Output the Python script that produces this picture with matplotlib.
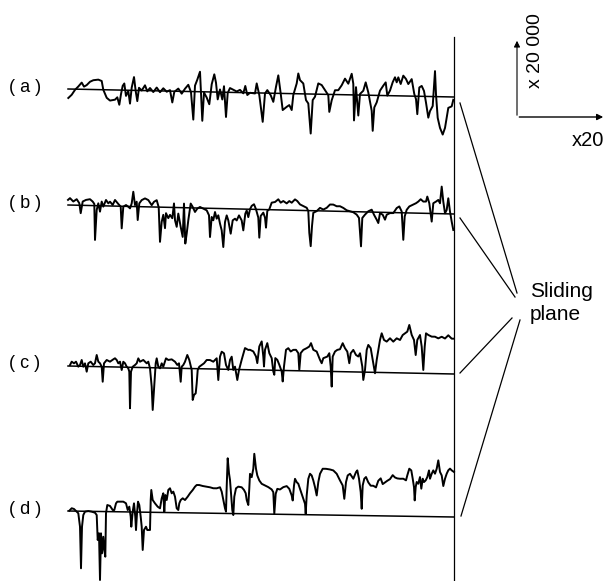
import numpy as np
import matplotlib
matplotlib.use("Agg")
import matplotlib.pyplot as plt

plt.rcParams['font.family'] = ['Liberation Sans', 'DejaVu Sans']

# surface profiles: (distance along trace, height above the mean line)
profile_a = [(0.3, -9), (3.7, -5.7), (7, -0.7), (10.3, 2.7), (13.7, 6.7), (16, 2.7), (18.7, 4.3), (22, 7.7),
             (25.3, 9.3), (30.3, 10), (33.7, 8.7), (35.3, 0), (38.7, -8), (42, -10.7), (47, -9.7), (49.3, -7.3),
             (51.3, -14.7), (53, -4), (54.7, 4.3), (56.3, 6.7), (58, -5.7), (60.3, -0.7), (62, -13.3), (63.7, 2.7),
             (66, 13.3), (67.7, -0.7), (69.3, -10.7), (71, 2.7), (73.7, 0), (77, 5.3), (79.3, -0.7), (82, 2.7),
             (85.3, -1.3), (88.7, 3.3), (92, -1.3), (95.3, 2.7), (98.7, -0.7), (102, 1), (104.3, -11.3),
             (106.3, -0.7), (110.3, 2.7), (113.7, -2.3), (117, 2.7), (120.3, 6.7), (123, -0.7), (125.3, -28),
             (127, 6), (129.3, 12), (132, 20), (134.3, -29), (136, -0.7), (138.7, -5.7), (141.3, -12.3),
             (143.7, 7.7), (146.3, 17.7), (148, 9.3), (149.7, -7.3), (152, 2.7), (154.3, -7.3), (156, 6),
             (158, -24.7), (159.7, -0.7), (162, 4.3), (165.3, 2.7), (168.7, 1), (172, 2.7), (175.3, -0.7),
             (177.3, 6.7), (179.3, -2.3), (182, 0), (187, -0.6), (188.7, 9.5), (191.3, -2.1), (194.7, -28.8),
             (197, -0.4), (199.3, 3), (202.7, -2), (205.3, -8.6), (208, 6.5), (210.3, 18), (212.7, -0.1),
             (214.7, -16.6), (218.7, -13.3), (221.3, -11.5), (223.7, -16.4), (225.3, -1.4), (228.7, 10.3),
             (230.3, 20.3), (232, 13.7), (235.3, 10.4), (238, -6.2), (240.3, -9.5), (242.7, -39.5), (244.7, -6),
             (247, -2.6), (250.3, 10.8), (253.7, 9.2), (257, 4.2), (260.3, -0.8), (261.3, -17.5), (263.7, -5.8),
             (267, 4.3), (270.3, 4.4), (273.7, 9.4), (277, 16.1), (280.3, 11.1), (283.7, 21.1), (285.3, 11.1),
             (286, -25.5), (288, 7.8), (290.3, -20.5), (292, 1.1), (295.3, 4.4), (297.7, 12.8), (300.3, 2.8),
             (303.7, -15.5), (304.7, -35.5), (306.3, -12.1), (308.7, -7), (312, 4.8), (315.3, 9.9), (317.7, 13.2),
             (319.3, 0), (322, 5.1), (324.7, 13.5), (327, 18.5), (328.7, 13.5), (330.3, 18.5), (332.7, 11.9),
             (335.3, 20.3), (338, 17), (340.3, 12), (343.7, 17), (346.3, 2.1), (348, -2.9), (349.3, -17.9),
             (351.3, 8.8), (353.7, 10.4), (356, 5.4), (358, -6.2), (360.3, -21.2), (362, -14.6), (364.7, -9.5),
             (367, 25.5), (368, 2.2), (369.7, -21.2), (372, -31.2), (374.7, -37.8), (377, -31.1), (378.7, -21),
             (380.3, -11), (383.7, -9.4), (385.3, -2.8)]

profile_b = [(0, 5.1), (2, 6.9), (5.3, 3.6), (8.7, 6), (11.3, 2.1), (12.7, -7.9), (14.7, 3.8), (18, 5.5), (22, 6.3),
             (24.7, 4), (26.3, 1.7), (27, -34.3), (28.7, -4.3), (30.3, 2.4), (32, -5.9), (33.7, 4.2), (35.3, -0.8),
             (38, 5.9), (40.3, 2.6), (42, 4.3), (44.7, 1.1), (47, 6.1), (50.3, 2.2), (52.7, -0.4), (53.7, -22.1),
             (55.3, -0.4), (58, 1.3), (60.3, -0.3), (62, -1.9), (63.7, 3.1), (65.3, 14.8), (67, 1.5), (68.7, 4.9),
             (69.7, -13.4), (71.3, 3.3), (73.7, 6.6), (77, 8.4), (80.3, 6.8), (83.7, 1.8), (86, 5.2), (88.7, 6.9),
             (90.7, -0.2), (92, -34.7), (93.7, -14.6), (95.3, -7.6), (97, -20.9), (98, -5.9), (100.3, -10.8),
             (102, -7.5), (104.3, -10.8), (106, 4), (107, -12.7), (108.7, -19.3), (110.3, -6), (112.7, -19.3),
             (114.7, -29.2), (116, 4.1), (117.3, -35.8), (118.7, -25.8), (120.3, -12.4), (122.7, 4.3), (124.7, 1),
             (127, -4), (129.3, -0.6), (132, 1.1), (135.3, -0.5), (138.7, -2.1), (141, -7), (142, -28.7),
             (143.7, -8.6), (145.3, -11.9), (147, -3.6), (148.7, -10.2), (150.3, -6.8), (152, -15.1),
             (153.7, -21.8), (155.3, -38.4), (157, -13.4), (158.7, -6.7), (160.3, -11.6), (162.7, -24.9),
             (164.7, -11.5), (167, -9.8), (168.7, -11.5), (171, -6.4), (173.7, -11.4), (175.3, -21.3),
             (177.3, -4.6), (178.7, -1.3), (180.3, -7.9), (182, 0), (183.7, 3.4), (186, 5.1), (188, 0.1),
             (190.3, -8.2), (191.3, -28.2), (192.7, -6.5), (195.3, -3.1), (197, -8), (198, -18), (199.3, -1.3),
             (201.3, 0.4), (203.7, 7.1), (207, 7.8), (210.3, 10.6), (212.7, 7.3), (215.3, 9), (218.7, 6.7),
             (221.3, 9.1), (223.7, 7.5), (227, 10.9), (229.3, 9.3), (232, 6), (235.3, 4.4), (238.7, 2.8),
             (240.3, -0.5), (241.3, -22.2), (242.7, -35.5), (244, -15.4), (245.3, -2.1), (248.7, -0.3), (252, 3),
             (255.3, 1.4), (258.7, 3.2), (262, 6.6), (265.3, 6.6), (268.7, 5), (272, 5.1), (275.3, 3.5),
             (278.7, 1.2), (282, 0.3), (285.3, -0.6), (288.7, -2.9), (291, -6.2), (293, -34.5), (294.3, -6.1),
             (297, -2.7), (300.3, 0.7), (303.7, 2.4), (306, -2.6), (308.7, -7.5), (310.3, -10.8), (312, -0.8),
             (314.7, -2.4), (317, -7.3), (318.7, -2.3), (322, -0.6), (325.3, -0.5), (328.7, 4.6), (331.3, 6.3),
             (333.7, 1.3), (335.3, -27), (336.7, -3.6), (338.7, 3.1), (341.3, 6.5), (344.7, 8.2), (348, 9.9),
             (350.3, 11.6), (352.7, 14), (355.3, 11.7), (358, 11.8), (359.3, 16.8), (361.3, 10.2), (363.7, -8.1),
             (365.3, 10.3), (368, 12), (370.3, 13.7), (372, 10.4), (373.7, 27.1), (375.3, 12.1), (377, 0.5),
             (378.7, 3.9), (380.3, 15.6), (382, 2.3), (383.7, -7.7), (385.3, -16)]

profile_c = [(2, 1), (3.7, 4.4), (6, 2.8), (8, 4.5), (10.3, -0.5), (12, 1.2), (13.7, 6.3), (15.3, -0.4), (17, 3),
             (18.7, -5.3), (20.3, 3.1), (22.7, 4.8), (25.3, 1.5), (27, 3.3), (28.7, 11.6), (30.3, 5), (32, 3.4),
             (33.7, 0), (34.7, -15), (36, 3.4), (38.7, 6.8), (42, 5.2), (45.3, 7.6), (47, 8.7), (48.7, 7),
             (50.3, 3.7), (52, 5.4), (53.7, -2.9), (55.3, 5.4), (57, 3.9), (58.7, 0.5), (60.3, -1.1), (61.3, -4.4),
             (62, -41), (63, -4.4), (64.7, 0.6), (67, 2.4), (68.7, 4.1), (70.3, 9.1), (72, 5.8), (75.3, 7.6),
             (78.7, 4.3), (80.3, 6), (82, -0.6), (83.7, -19), (84.7, -42.2), (86, -22.2), (87.7, 4.5), (88.7, 9.5),
             (90.3, 1.2), (92, -0.4), (93.7, 4.6), (95.3, 1.3), (98, 9.7), (100.3, 8.1), (103.7, 8.8), (107, 6.5),
             (109.3, 3.3), (111, 5), (112.7, -13.4), (113.7, 1.7), (115.3, 3.4), (117, 6.7), (119.3, 13.5),
             (121.3, 8.5), (123.7, -1.4), (124.7, -31.4), (126, -26.4), (127.7, -24.7), (128.7, -14.6),
             (129.7, -1.3), (131.3, 2), (133.7, 3.8), (136, 5.5), (138.7, 8.9), (142, 8.9), (145.3, 7.3),
             (148.7, 10.8), (150.3, -10.9), (152, 12.5), (153.7, 17.5), (156, 15.9), (158, 4.3), (160.3, -0.6),
             (162, 9.4), (163.7, 12.7), (165.3, -0.5), (167, 2.8), (169.3, -10.5), (171, -0.5), (173.7, 9.9),
             (177, 21.6), (180.3, 19.8), (182, 20), (185.3, 18.4), (188, 13.4), (189.3, 6.8), (191.3, 23.5),
             (193.7, 28.6), (195.3, 13.6), (196, 3.6), (197, 20.3), (199.3, 27), (201.3, 17), (203.7, 12.1),
             (205.3, -1.2), (206.3, -4.5), (207.3, 12.2), (209.3, 10.5), (211.3, 5.6), (213.7, -1.1), (214.7, -11),
             (216, 4), (218, 20.7), (220.3, 22.4), (222.7, 19.1), (225.3, 20.8), (228, 20.9), (230.3, 17.6),
             (231.3, 1), (232.7, 17.7), (235.3, 21), (238.7, 22.8), (241.3, 24.5), (243, 27.9), (245.3, 21.3),
             (248.7, 19.6), (252, 11.4), (253.7, 8), (255.3, 13.1), (259.3, 14.8), (261.3, 18.2), (262.7, 4.9),
             (263.7, -15.1), (264.7, 14.9), (267, 20), (269.3, 21.7), (272, 22.4), (274.7, 28.5), (277, 23.5),
             (279.3, 20.2), (281.3, 8.6), (282.7, 18.6), (285.3, 22), (288, 17), (290.3, 15.5), (292, 18.8),
             (294.3, 5.5), (295.3, -7.8), (297, 2.3), (298.7, 22.3), (300.3, 27.3), (302.7, 24.1), (305.3, 9.1),
             (307, -0.9), (308.7, 12.5), (310.3, 22.5), (312, 32.5), (313.7, 39.2), (316, 32.6), (318.7, 31),
             (322, 34.4), (325.3, 31.1), (328.7, 34.5), (332, 32.9), (334.7, 37.9), (337, 39.7), (339.3, 41.4),
             (341.3, 48.1), (343.7, 38.2), (346, 33.2), (347.7, 18.2), (349.3, 33.3), (352, 38.3), (353.7, 26.7),
             (355.3, 3.4), (356.7, 26.7), (358, 40.1), (360.3, 38.5), (363.7, 36.9), (367, 36.9), (370.3, 35.3),
             (373.7, 37), (377, 35.3), (380.3, 38.6), (383.7, 35.3), (386, 35.3)]

profile_d = [(1.3, 0.3), (3.7, 2.8), (6, 2.1), (8.7, -0.6), (10.3, -2.1), (12, -15.5), (13, -57.1), (14, -15.5),
             (15.3, -3.8), (17, -0.4), (20.3, 0.3), (23.7, -0.3), (27, -1.3), (28.7, -3.6), (29.7, -28.5),
             (31, -21.8), (32, -68.5), (33, -21.8), (34, -41.8), (35.3, -25.2), (36.3, -38.4), (37.3, -45.1),
             (38, -1.7), (39.3, 6.6), (42, 5.7), (44.7, 1.7), (46.3, 1.7), (48, 8.4), (49.3, 10.1), (52, 10.1),
             (55.3, 10.2), (58, 8.6), (59.7, 1.9), (61.3, 5.3), (62.7, -4.7), (63.3, -14.7), (64.7, 0.3), (66, 8.7),
             (67.3, -4.7), (68, -18), (69, -1.2), (70, 10.4), (71.3, 7.1), (72.7, -4.6), (73.7, -14.6), (74.7, -37.8),
             (76, -17.8), (78, -14.5), (79.3, -17.8), (82, -17.7), (82.7, 12.3), (83.3, 22.3), (84.7, 12.3), (87, 9),
             (89.7, 5.7), (92, 4.1), (93.7, 14.1), (95.3, 19.2), (96.3, 0.8), (97.3, 17.5), (98.7, 12.5),
             (100.3, 22.6), (102, 24.3), (103.7, 19.3), (105.3, 21), (107, 16), (108.7, 4.4), (110.3, 2.7),
             (111.3, 9.4), (112.7, 12.7), (114.7, 14.5), (117, 12.8), (119.7, 16.2), (122, 19.6), (124.7, 22.9),
             (127, 26.3), (128.7, 28), (131.3, 28), (134.7, 27.1), (138.7, 26.5), (142, 25.9), (145.3, 25),
             (148.7, 25), (152, 26.1), (153.7, 21.7), (155.3, 13.4), (157, 5.1), (158, 1.8), (158.7, 26.8),
             (159.7, 55.2), (161, 40.2), (162, 33.5), (163, 20.2), (164.3, 3.5), (165.3, -1.5), (166.3, 16.9),
             (168, 25.3), (170.3, 27), (173.7, 26.4), (176, 23.8), (177.7, 20.5), (178.7, 13.8), (180.3, 8.8),
             (181.3, 25.5), (182, 40), (183.7, 36.7), (185.3, 45.1), (186.3, 60.1), (188, 45.1), (189.3, 38.5),
             (191.3, 33.5), (193.7, 30.2), (197, 28.6), (200.3, 27), (203.7, 24.7), (205.3, 22), (206.3, 0.4),
             (207.7, 20.4), (209.3, 25.4), (212, 24.8), (215.3, 27.2), (218.7, 28.3), (221.3, 25.6), (223.7, 19),
             (224.7, 14), (226, 29), (227, 35.7), (228.7, 32.4), (230.3, 30.8), (232, 25.8), (233.7, 20.8),
             (235.3, 15.9), (237, 10.9), (237.7, 0.9), (238.7, 19.3), (240.3, 35.9), (242, 41), (243.7, 39.3),
             (245.3, 34.4), (247, 27.7), (248.7, 19.4), (250.3, 32.8), (252, 41.1), (254.7, 46.2), (258, 46.2),
             (262, 45.6), (265.3, 44.7), (268.7, 41.4), (272, 34.8), (274.7, 29.8), (276.3, 16.5), (278, 33.2),
             (279.7, 39.9), (282, 41.6), (285.3, 36.7), (288, 43.4), (289.3, 45.1), (291, 36.8), (292.7, 23.5),
             (293.7, 6.8), (294.7, 30.2), (296.3, 36.9), (298, 38.6), (300.3, 33.3), (302.7, 30), (305.3, 30),
             (308, 28.4), (310.3, 35.1), (312.7, 37.5), (314.7, 31.8), (317, 33.5), (319.3, 35.2), (322, 36.9),
             (324.7, 40.9), (327, 38.6), (329.3, 37.7), (332, 37.4), (335.3, 37.5), (338, 35.9), (339.3, 40.9),
             (341.3, 47.6), (343.3, 45.9), (344.7, 37.7), (346, 29.3), (346.7, 16), (347.7, 29.4), (348.7, 34.4),
             (350.3, 32.7), (352, 39.4), (353.3, 27.8), (354.7, 37.8), (356, 34.5), (357.7, 36.2), (359.3, 39.5),
             (361, 46.2), (362, 37.9), (363.7, 42.9), (365.3, 46.3), (367, 43), (368.7, 48), (370.3, 56.4),
             (372, 44.8), (373.7, 41.4), (375.3, 30.8), (377, 38.1), (378.7, 43.2), (380.3, 46.6), (382, 48.3),
             (383.7, 46.6), (386, 45)]

profile_labels = ["( a )", "( b )", "( c )", "( d )"]

# layout (figure pixels): trace start, trace length, mean line y at start / end
X0 = 68
LENGTH = 386
mean_lines = [(89, 97), (205, 214), (366, 374), (511, 517)]
PLANE_X = 454

fig = plt.figure(figsize=(6.07, 5.81), dpi=100)
ax = fig.add_axes([0, 0, 1, 1])
ax.set_xlim(0, 607)
ax.set_ylim(581, 0)
ax.axis('off')

for prof, (y0, y1), lab in zip([profile_a, profile_b, profile_c, profile_d], mean_lines, profile_labels):
    dist = np.array([p[0] for p in prof])
    h = np.array([p[1] for p in prof])
    base = y0 + (y1 - y0) * dist / LENGTH
    ax.plot(X0 + dist, base - h, color='black', lw=1.4, solid_joinstyle='round')
    ax.plot([X0, X0 + LENGTH], [y0, y1], color='black', lw=1.1)
    ax.text(25, y0 - 2, lab, ha='center', va='center', fontsize=13)

# sliding plane
ax.plot([PLANE_X, PLANE_X], [37, 581], color='black', lw=0.9)
leaders = [((460, 103), (517, 293)), ((460, 218), (515, 297)),
           ((460, 373), (512, 318)), ((461, 516), (520, 320))]
for (xa, ya), (xb, yb) in leaders:
    ax.plot([xa, xb], [ya, yb], color='black', lw=0.9)
ax.text(530, 297, "Sliding", ha='left', va='baseline', fontsize=15)
ax.text(530, 320, "plane", ha='left', va='baseline', fontsize=15)

# magnification axes
ax.annotate('', xy=(517, 38), xytext=(517, 118),
            arrowprops=dict(arrowstyle='-|>', lw=0.8, color='black', mutation_scale=9))
ax.annotate('', xy=(606, 117), xytext=(516.5, 117),
            arrowprops=dict(arrowstyle='-|>', lw=1.0, color='black', mutation_scale=9))
ax.text(536, 51, "x 20 000", rotation=90, ha='center', va='center', fontsize=14)
ax.text(588, 140, "x20", ha='center', va='center', fontsize=14.5)

fig.savefig("out.png", dpi=100)
